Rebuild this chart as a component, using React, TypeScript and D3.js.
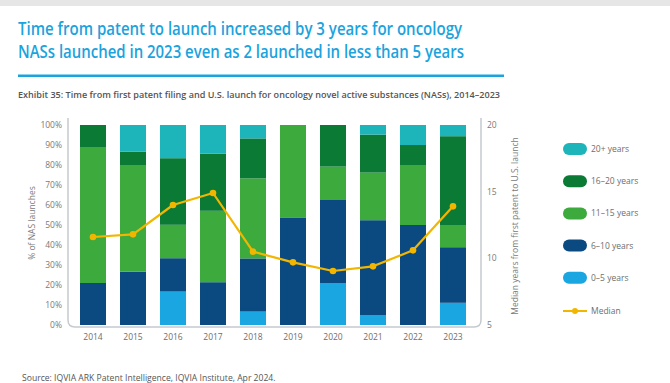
import React from "react";
import * as d3 from "d3";

const years = ["2014", "2015", "2016", "2017", "2018", "2019", "2020", "2021", "2022", "2023"];
const seriesKeys = ["0–5 years", "6–10 years", "11–15 years", "16–20 years", "20+ years"];
const y0to5 = [0, 0, 16.7, 0, 6.7, 0, 20.8, 4.8, 0, 11.1];
const y6to10 = [21.0, 26.7, 16.7, 21.4, 26.6, 53.8, 41.7, 47.6, 50, 27.8];
const y11to15 = [68.0, 53.3, 16.7, 35.7, 40, 46.2, 16.7, 23.8, 30, 11.1];
const y16to20 = [11.0, 6.7, 33.3, 28.6, 20, 0, 20.8, 19.0, 10, 44.4];
const y20plus = [0, 13.3, 16.6, 14.3, 6.7, 0, 0, 4.8, 10, 5.6];
const medianYears = [11.6, 11.8, 14.0, 14.9, 10.5, 9.7, 9.05, 9.4, 10.6, 13.9];
const leftTicks = [0, 10, 20, 30, 40, 50, 60, 70, 80, 90, 100];
const rightTicks = [5, 10, 15, 20];
const colors = ["#1AA6E0", "#0B4A80", "#3CAA3C", "#0A7A35", "#1DB5B9"];
const medianColor = "#F2B600";
const legendOrder = [4, 3, 2, 1, 0];

export default function App() {
  const x = d3.scaleBand<string>().domain(years).range([73, 473]).paddingInner(0.35).paddingOuter(0.175);
  const yL = d3.scaleLinear().domain([0, 100]).range([325, 125]);
  const yR = d3.scaleLinear().domain([5, 20]).range([325, 125]);
  const table = years.map((yr, i) => ({
    year: yr,
    "0–5 years": y0to5[i],
    "6–10 years": y6to10[i],
    "11–15 years": y11to15[i],
    "16–20 years": y16to20[i],
    "20+ years": y20plus[i],
  }));
  const stacked = d3.stack<any>().keys(seriesKeys)(table);
  const line = d3
    .line<number>()
    .x((_, i) => (x(years[i]) as number) + x.bandwidth() / 2)
    .y((d) => yR(d))
    .curve(d3.curveLinear);
  const font = "'Open Sans', sans-serif";
  const axisColor = "#C5CAD0";

  return (
    <svg width={670} height={383} style={{ position: "absolute", left: 0, top: 0, background: "#fff" }} fontFamily={font}>
      <rect x={0} y={0} width={670} height={6} fill="#E6E6E6" />
      <text x={18} y={35} fontSize={18} fontWeight={600} fill="#1BA3DE" textLength={444} lengthAdjust="spacingAndGlyphs">
        Time from patent to launch increased by 3 years for oncology
      </text>
      <text x={18} y={58} fontSize={18} fontWeight={600} fill="#1BA3DE" textLength={446} lengthAdjust="spacingAndGlyphs">
        NASs launched in 2023 even as 2 launched in less than 5 years
      </text>
      <rect x={18} y={74.5} width={486} height={2.5} fill="#1BA3DE" />
      <text x={18} y={98} fontSize={8.7} fontWeight={600} fill="#555" textLength={482} lengthAdjust="spacingAndGlyphs">
        Exhibit 35: Time from first patent filing and U.S. launch for oncology novel active substances (NASs), 2014–2023
      </text>

      {/* axis frame */}
      <path
        d={`M68,118 L68,320 Q68,327 75,327 L474,327 Q481,327 481,320 L481,118`}
        fill="none"
        stroke={axisColor}
        strokeWidth={1.5}
      />

      {/* bars */}
      {stacked.map((s, si) => (
        <g key={s.key} fill={colors[si]}>
          {s.map((d, i) =>
            d[1] - d[0] > 0 ? (
              <rect
                key={i}
                x={x(years[i])}
                y={yL(d[1])}
                width={x.bandwidth()}
                height={yL(d[0]) - yL(d[1])}
              />
            ) : null
          )}
        </g>
      ))}

      {/* median line */}
      <path d={line(medianYears) || ""} fill="none" stroke={medianColor} strokeWidth={2.2} strokeLinejoin="round" />
      {medianYears.map((m, i) => (
        <circle key={i} cx={(x(years[i]) as number) + x.bandwidth() / 2} cy={yR(m)} r={3.3} fill={medianColor} />
      ))}

      {/* left ticks */}
      {leftTicks.map((t) => (
        <text key={t} x={62} y={yL(t) + 3} fontSize={8.5} fill="#7A7A7A" textAnchor="end">
          {t}%
        </text>
      ))}
      <text transform={`translate(35,223) rotate(-90)`} fontSize={8.5} fill="#7A7A7A" textAnchor="middle">
        % of NAS launches
      </text>

      {/* right ticks */}
      {rightTicks.map((t) => (
        <text key={t} x={487} y={yR(t) + 3} fontSize={8.5} fill="#7A7A7A">
          {t}
        </text>
      ))}
      <text transform={`translate(518,226) rotate(-90)`} fontSize={8.5} fill="#7A7A7A" textAnchor="middle">
        Median years from first patent to U.S. launch
      </text>

      {/* x labels */}
      {years.map((yr) => (
        <text key={yr} x={(x(yr) as number) + x.bandwidth() / 2} y={340} fontSize={8.5} fill="#6E6E6E" textAnchor="middle">
          {yr}
        </text>
      ))}

      {/* legend */}
      {legendOrder.map((si, k) => {
        const cy = 149 + k * 32.2;
        return (
          <g key={si}>
            <rect x={563} y={cy - 6} width={24} height={12} rx={6} fill={colors[si]} />
            <text x={591} y={cy + 3} fontSize={8.5} fill="#6E6E6E">
              {seriesKeys[si]}
            </text>
          </g>
        );
      })}
      <g>
        <line x1={563} x2={587} y1={311} y2={311} stroke={medianColor} strokeWidth={2} />
        <circle cx={575} cy={311} r={3} fill={medianColor} />
        <text x={591} y={314} fontSize={8.5} fill="#6E6E6E">
          Median
        </text>
      </g>

      <text x={22} y={381} fontSize={8.6} fill="#555">
        Source: IQVIA ARK Patent Intelligence, IQVIA Institute, Apr 2024.
      </text>
    </svg>
  );
}
